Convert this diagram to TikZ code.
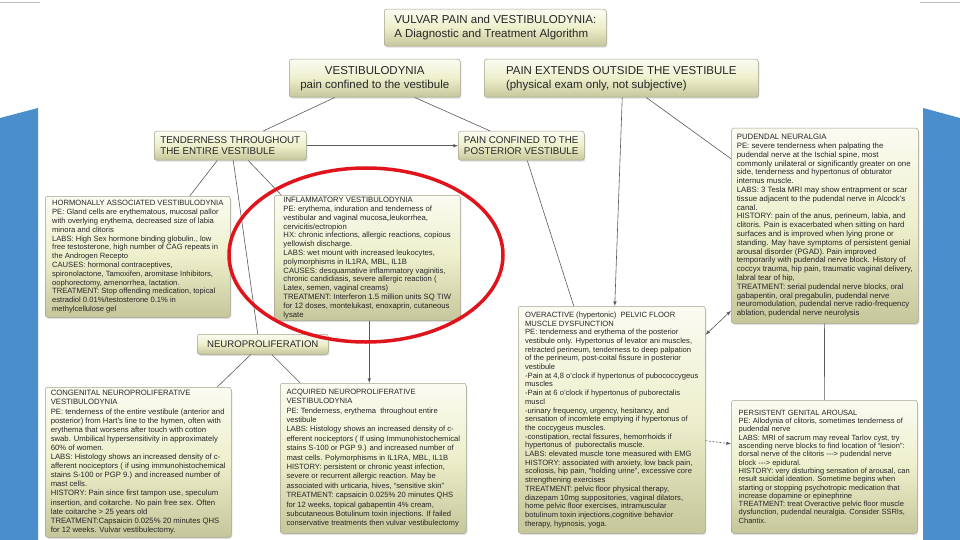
\documentclass[tikz,border=0pt]{standalone}
\usepackage{fontspec}
\setmainfont{Liberation Sans}
\usepackage{tikz}
\tikzset{>=latex}
\usetikzlibrary{calc}
\usetikzlibrary{shadows}
\definecolor{boxtop}{HTML}{FBFBF2}
\definecolor{boxmid}{HTML}{EDEFCB}
\definecolor{boxbot}{HTML}{C5C69A}
\definecolor{boxline}{HTML}{A3A38C}
\definecolor{boxtext}{HTML}{262626}
\definecolor{linkgray}{HTML}{5A5A5A}
\definecolor{bandblue}{HTML}{4A8FCB}
\definecolor{ringred}{HTML}{E0141C}
\tikzset{
  box/.style={draw=boxline, line width=0.5pt, rounded corners=2.5pt,
    top color=boxtop, bottom color=boxbot, middle color=boxmid,
    drop shadow={opacity=0.25, shadow xshift=1pt, shadow yshift=-1.5pt},
    text=boxtext, anchor=north west, inner xsep=4pt, inner ysep=2pt, align=left},
  link/.style={draw=linkgray, line width=0.6pt},
}

\begin{document}
\begin{tikzpicture}[x=1pt, y=-1pt]
            \useasboundingbox[fill=white] (0,0) rectangle (960,540);
            % side bands
            \fill[bandblue] (0,118) -- (38,108) -- (38,540) -- (0,540) -- cycle;
            \fill[bandblue] (923,108) -- (960,118) -- (960,540) -- (923,540) -- cycle;
            \draw[gray!50, line width=0.4pt] (0,2) -- (40,2) (920,2) -- (960,2);

            % headings
            \node[box, minimum width=222, minimum height=37, font=\fontsize{11.5}{13.5}\selectfont] (T) at (384,9) {VULVAR PAIN and VESTIBULODYNIA:\\A Diagnostic and Treatment Algorithm};
            \node[box, align=center, minimum width=171, minimum height=38, font=\fontsize{11.5}{14}\selectfont] (V) at (289,59) {VESTIBULODYNIA\\pain confined to the vestibule};
            \node[box, minimum width=274, minimum height=38, font=\fontsize{11.5}{14}\selectfont] (E) at (484,59) {PAIN EXTENDS OUTSIDE THE VESTIBULE\\(physical exam only, not subjective)};
            \node[box, minimum width=152, minimum height=29, font=\fontsize{9.8}{11.5}\selectfont] (W) at (154,131) {TENDERNESS THROUGHOUT\\THE ENTIRE VESTIBULE};
            \node[box, minimum width=126, minimum height=29, font=\fontsize{9.8}{11.5}\selectfont] (P) at (458,131) {PAIN CONFINED TO THE\\POSTERIOR VESTIBULE};
            \node[box, align=center, minimum width=131, minimum height=20, font=\fontsize{9.6}{11}\selectfont] (N) at (197,334) {NEUROPROLIFERATION};

            % findings
            \node[box, minimum width=185, minimum height=121, font=\fontsize{7.6}{8.8}\selectfont] (H) at (45,196) {HORMONALLY ASSOCIATED VESTIBULODYNIA\\PE: Gland cells are erythematous, mucosal pallor\\with overlying erythema, decreased size of labia\\minora and clitoris\\LABS: High Sex hormone binding globulin., low\\free testosterone, high number of CAG repeats in\\the Androgen Recepto\\CAUSES: hormonal contraceptives,\\spironolactone, Tamoxifen, aromitase Inhibitors,\\oophorectomy, amenorrhea, lactation.\\TREATMENT: Stop offending medication, topical\\estradiol 0.01\%/testosterone 0.1\% in\\methylcellulose gel};
            \node[box, minimum width=186, minimum height=125, font=\fontsize{7.7}{8.8}\selectfont] (I) at (274,195) {INFLAMMATORY VESTIBULODYNIA\\PE: erythema, induration and tenderness of\\vestibular and vaginal mucosa,,leukorrhea,\\cervicitis/ectropion\\HX: chronic infections, allergic reactions, copious\\yellowish discharge.\\LABS: wet mount with increased leukocytes,\\polymorphisms in IL1RA, MBL, IL1B\\CAUSES: desquamative inflammatory vaginitis,\\chronic candidiasis, severe allergic reaction (\\Latex, semen, vaginal creams)\\TREATMENT: Interferon 1.5 million units SQ TIW\\for 12 doses, montelukast, enoxaprin, cutaneous\\lysate};
            \node[box, minimum width=187, minimum height=195, font=\fontsize{7.8}{8.8}\selectfont] (U) at (731,128) {PUDENDAL NEURALGIA\\PE: severe tenderness when palpating the\\pudendal nerve at the Ischial spine, most\\commonly unilateral or significantly greater on one\\side, tenderness and hypertonus of obturator\\internus muscle.\\LABS: 3 Tesla MRI may show entrapment or scar\\tissue adjacent to the pudendal nerve in Alcock's\\canal.\\HISTORY: pain of the anus, perineum, labia, and\\clitoris. Pain is exacerbated when sitting on hard\\surfaces and is improved when lying prone or\\standing. May have symptoms of persistent genial\\arousal disorder (PGAD). Pain improved\\temporarily with pudendal nerve block. History of\\coccyx trauma, hip pain, traumatic vaginal delivery,\\labral tear of hip,\\TREATMENT: serial pudendal nerve blocks, oral\\gabapentin, oral pregabulin, pudendal nerve\\neuromodulation, pudendal nerve radio-frequency\\ablation, pudendal nerve neurolysis};
            \node[box, minimum width=187, minimum height=227, font=\fontsize{7.6}{8.7}\selectfont] (O) at (518,306) {OVERACTIVE (hypertonic)\ \ PELVIC FLOOR\\MUSCLE DYSFUNCTION\\PE: tenderness and erythema of the posterior\\vestibule only. Hypertonus of levator ani muscles,\\retracted perineum, tenderness to deep palpation\\of the perineum, post-coital fissure in posterior\\vestibule\\-Pain at 4,8 o'clock if hypertonus of pubococcygeus\\muscles\\-Pain at 6 o'clock if hypertonus of puborectalis\\muscl\\-urinary frequency, urgency, hesitancy, and\\sensation of incomlete emptying if hypertonus of\\the coccygeus muscles.\\-constipation, rectal fissures, hemorrhoids if\\hypertonus of\ \ puborectalis muscle.\\LABS: elevated muscle tone measured with EMG\\HISTORY: associated with anxiety, low back pain,\\scoliosis, hip pain, ``holding urine'', excessive core\\strengthening exercises\\TREATMENT: pelvic floor physical therapy,\\diazepam 10mg suppositories, vaginal dilators,\\home pelvic floor exercises, intramuscular\\botulinum toxin injections,cognitive behavior\\therapy, hypnosis, yoga.};
            \node[box, minimum width=186, minimum height=150, font=\fontsize{7.7}{9.1}\selectfont] (C) at (45,387) {CONGENITAL NEUROPROLIFERATIVE\\VESTIBULODYNIA\\PE: tenderness of the entire vestibule (anterior and\\posterior) from Hart's line to the hymen, often with\\erythema that worsens after touch with cotton\\swab. Umbilical hypersensitivity in approximately\\60\% of women.\\LABS: Histology shows an increased density of c-\\afferent nociceptors ( if using immunohistochemical\\stains S-100 or PGP 9.) and increased number of\\mast cells.\\HISTORY: Pain since first tampon use, speculum\\insertion, and coitarche. No pain free sex. Often\\late coitarche > 25 years old\\TREATMENT:Capsaicin 0.025\% 20 minutes QHS\\for 12 weeks. Vulvar vestibulectomy.};
            \node[box, minimum width=186, minimum height=150, font=\fontsize{7.6}{9.4}\selectfont] (A) at (280,383) {ACQUIRED NEUROPROLIFERATIVE\\VESTIBULODYNIA\\PE: Tenderness, erythema\ \ throughout entire\\vestibule\\LABS: Histology shows an increased density of c-\\efferent nociceptors ( If using Immunohistochemical\\stains S-100 or PGP 9.) and increased number of\\mast cells. Polymorphisms in IL1RA, MBL, IL1B\\HISTORY: persistent or chronic yeast infection,\\severe or recurrent allergic reaction. May be\\associated with urticaria, hives, ``sensitive skin''\\TREATMENT: capsaicin 0.025\% 20 minutes QHS\\for 12 weeks, topical gabapentin 4\% cream,\\subcutaneous Botulinum toxin injections. If failed\\conservative treatments then vulvar vestibulectomy};
            \node[box, minimum width=186, minimum height=133, font=\fontsize{7.5}{8.3}\selectfont] (G) at (731,400) {PERSISTENT GENITAL AROUSAL\\PE: Allodynia of clitoris, sometimes tenderness of\\pudendal nerve\\LABS: MRI of sacrum may reveal Tarlov cyst, try\\ascending nerve blocks to find location of ``lesion'':\\dorsal nerve of the clitoris -{}-{}-> pudendal nerve\\block -{}-{}-> epidural.\\HISTORY: very disturbing sensation of arousal, can\\result suicidal ideation. Sometime begins when\\starting or stopping psychotropic medication that\\increase dopamine or epinephrine\\TREATMENT: treat Overactive pelvic floor muscle\\dysfunction, pudendal neuralgia. Consider SSRIs,\\Chantix.};

            % links
            \draw[link] ($(V.south)+(-40,0)$) -- ($(W.north)+(33,0)$);
            \draw[link] ($(V.south)+(40,0)$) -- ($(P.north)+(-31,0)$);
            \draw[link, ->] (W) -- (P);
            \draw[link, ->] ($(E.south)+(1,0)$) -- ($(O.north)+(3,0)$);
            \draw[link] ($(E.south)+(25,0)$) -- ($(U.west)+(0,-67)$);
            \draw[link] ($(P.south)+(6,0)$) -- ($(O.north)+(-38,0)$);
            \draw[link] ($(W.south)+(-13,0)$) -- ($(H.north)+(52,0)$);
            \draw[link] ($(W.south)+(3,0)$) -- ($(N.north)+(-5,0)$);
            \draw[link] ($(W.south)+(18,0)$) -- ($(I.north)+(-86,0)$);
            \draw[link, ->] ($(I.south)+(2,0)$) -- ($(A.north)+(-4,0)$);
            \draw[link] ($(N.south)+(-12,0)$) -- ($(C.north)+(79,0)$);
            \draw[link] ($(N.south)+(9,0)$) -- ($(A.north)+(-73,0)$);
            \draw[link, <->] ($(O.east)+(0,-85)$) -- ($(U.west)+(0,85)$);
            \draw[link, dash pattern=on 2pt off 1.5pt, ->] ($(O.east)+(0,21)$) -- ($(G.west)+(0,-23)$);
            \draw[link] (U) -- (G);

            % highlight
            \draw[ringred, line width=3.5pt] (366,255) ellipse [x radius=137, y radius=87];
        \end{tikzpicture}
\end{document}
